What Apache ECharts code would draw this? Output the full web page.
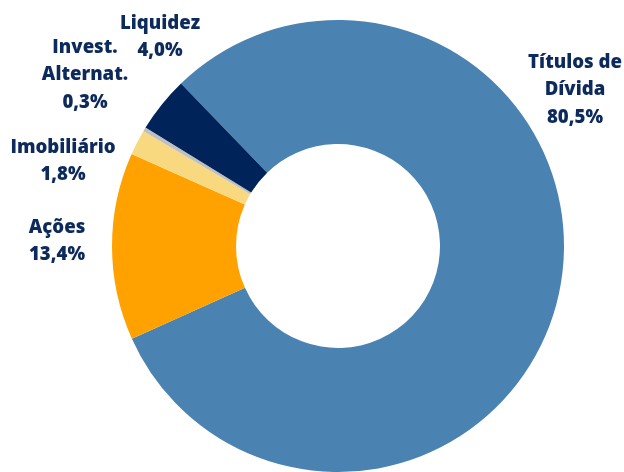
<!DOCTYPE html>
<html><head><meta charset="utf-8">
<script src="https://cdn.jsdelivr.net/npm/echarts@6/dist/echarts.min.js"></script>
<style>html,body{margin:0;padding:0;background:#fff}#c{width:624px;height:472px}</style>
</head><body><div id="c"></div>
<script>
const categories = ['Títulos de\nDívida', 'Ações', 'Imobiliário', 'Invest.\nAlternat.', 'Liquidez'];
const values = [80.5, 13.4, 1.8, 0.3, 4.0];
const valueLabels = ['80,5%', '13,4%', '1,8%', '0,3%', '4,0%'];
const colors = ['#4a83b1', '#ffa200', '#f9d97f', '#c0c0c0', '#00245a'];
const labelPos = [[575, 90], [57, 241], [63, 161], [85, 75], [160, 37]];

const chart = echarts.init(document.getElementById('c'), null, {renderer: 'canvas'});
chart.setOption({
  animation: false,
  series: [{
    type: 'pie',
    center: [338, 246],
    radius: [102, 226],
    startAngle: 134,
    clockwise: true,
    avoidLabelOverlap: false,
    data: categories.map((c, i) => ({name: c, value: values[i], itemStyle: {color: colors[i]}})),
    label: {
      show: true,
      position: 'outside',
      formatter: p => p.name + '\n' + valueLabels[p.dataIndex],
      fontFamily: 'Open Sans',
      fontWeight: 800,
      fontSize: 18.6,
      lineHeight: 27.5,
      color: '#0d2a5c',
      align: 'center'
    },
    labelLine: {show: false},
    labelLayout: p => ({x: labelPos[p.dataIndex][0], y: labelPos[p.dataIndex][1], align: 'center', verticalAlign: 'middle'})
  }]
});
</script></body></html>
